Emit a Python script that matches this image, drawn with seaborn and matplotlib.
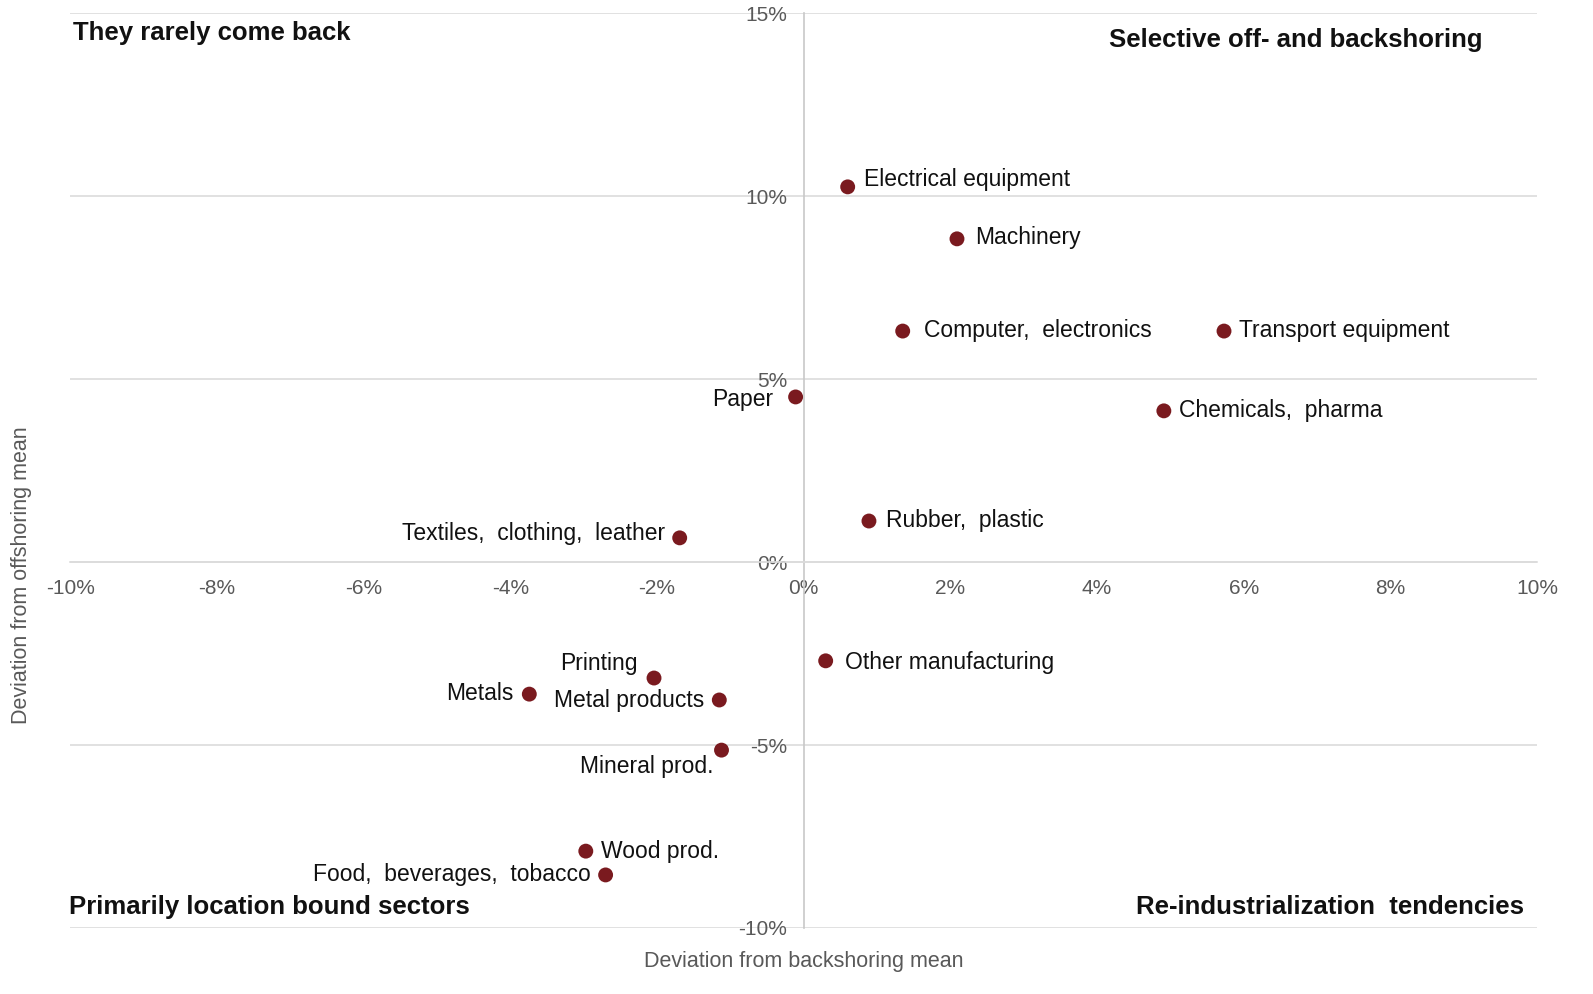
import numpy as np
import pandas as pd
import matplotlib.pyplot as plt
import seaborn as sns
from matplotlib.ticker import FuncFormatter, MultipleLocator

# data (percent deviations)
sectors = ["Electrical equipment", "Machinery", "Computer,  electronics",
           "Transport equipment", "Paper", "Chemicals,  pharma", "Rubber,  plastic",
           "Textiles,  clothing,  leather", "Other manufacturing", "Printing",
           "Metals", "Metal products", "Mineral prod.", "Wood prod.",
           "Food,  beverages,  tobacco"]
backshoring_dev = [0.60, 2.09, 1.35, 5.73, -0.11, 4.91, 0.89, -1.69, 0.30, -2.04,
                   -3.74, -1.15, -1.12, -2.97, -2.70]
offshoring_dev = [10.25, 8.83, 6.31, 6.31, 4.51, 4.13, 1.12, 0.66, -2.70, -3.17,
                  -3.61, -3.77, -5.14, -7.90, -8.55]

# label offsets in pixels (dx, dy) and alignment
label_pos = {
    "Electrical equipment": (16, 7, "left"),
    "Machinery": (18, 1, "left"),
    "Computer,  electronics": (21, 1, "left"),
    "Transport equipment": (15, 1, "left"),
    "Paper": (-22, -3, "right"),
    "Chemicals,  pharma": (15, 0, "left"),
    "Rubber,  plastic": (17, 1, "left"),
    "Textiles,  clothing,  leather": (-15, 4, "right"),
    "Other manufacturing": (19, -2, "left"),
    "Printing": (-16, 15, "right"),
    "Metals": (-16, 1, "right"),
    "Metal products": (-15, -1, "right"),
    "Mineral prod.": (-8, -16, "right"),
    "Wood prod.": (15, 0, "left"),
    "Food,  beverages,  tobacco": (-15, 0, "right"),
}

df = pd.DataFrame({"sector": sectors, "back": backshoring_dev, "off": offshoring_dev})

sns.set_style("white")
plt.rcParams["font.family"] = ["Liberation Sans", "DejaVu Sans"]

fig = plt.figure(figsize=(15.93, 9.94), dpi=100)
ax = fig.add_axes([0.044, 0.0664, 0.921, 0.9205])

ax.yaxis.grid(True, color="#dcdcdc", lw=1.2)
ax.set_axisbelow(True)
sns.scatterplot(data=df, x="back", y="off", ax=ax, color="#7a1a1f", s=115,
                edgecolor="none", zorder=3)

ax.set_xlim(-10, 10)
ax.set_ylim(-10, 15)
ax.xaxis.set_major_locator(MultipleLocator(2))
ax.yaxis.set_major_locator(MultipleLocator(5))
pct = FuncFormatter(lambda v, p: f"{v:.0f}%")
ax.xaxis.set_major_formatter(pct)
ax.yaxis.set_major_formatter(pct)

for s in ["top", "right"]:
    ax.spines[s].set_visible(False)
ax.spines["left"].set_position(("data", 0))
ax.spines["bottom"].set_position(("data", 0))
ax.spines["left"].set_color("#c8c8c8")
ax.spines["bottom"].set_color("#dcdcdc")
ax.spines["left"].set_linewidth(1.2)
ax.spines["bottom"].set_linewidth(1.2)
ax.tick_params(axis="x", length=0, pad=12, labelsize=15, labelcolor="#595959")
ax.tick_params(axis="y", length=0, pad=12, labelsize=15, labelcolor="#595959")

for _, r in df.iterrows():
    dx, dy, ha = label_pos[r["sector"]]
    ax.annotate(r["sector"], (r["back"], r["off"]), xytext=(dx * 0.72, dy * 0.72),
                textcoords="offset points", ha=ha, va="center", fontsize=16.5,
                color="#111111", zorder=4)

ax.set_xlabel("Deviation from backshoring mean", fontsize=15.5, color="#595959")
ax.set_ylabel("Deviation from offshoring mean", fontsize=15.5, color="#595959")
ax.xaxis.set_label_coords(0.5, -0.025)
ax.yaxis.set_label_coords(-0.026, 0.386)

quad = dict(fontsize=18.5, fontweight="bold", color="#111111", transform=ax.transAxes)
ax.text(0.002, 0.978, "They rarely come back", ha="left", va="center", **quad)
ax.text(0.963, 0.970, "Selective off- and backshoring", ha="right", va="center", **quad)
ax.text(-0.001, 0.023, "Primarily location bound sectors", ha="left", va="center", **quad)
ax.text(0.991, 0.023, "Re-industrialization  tendencies", ha="right", va="center", **quad)

plt.savefig("out.png", dpi=100)
